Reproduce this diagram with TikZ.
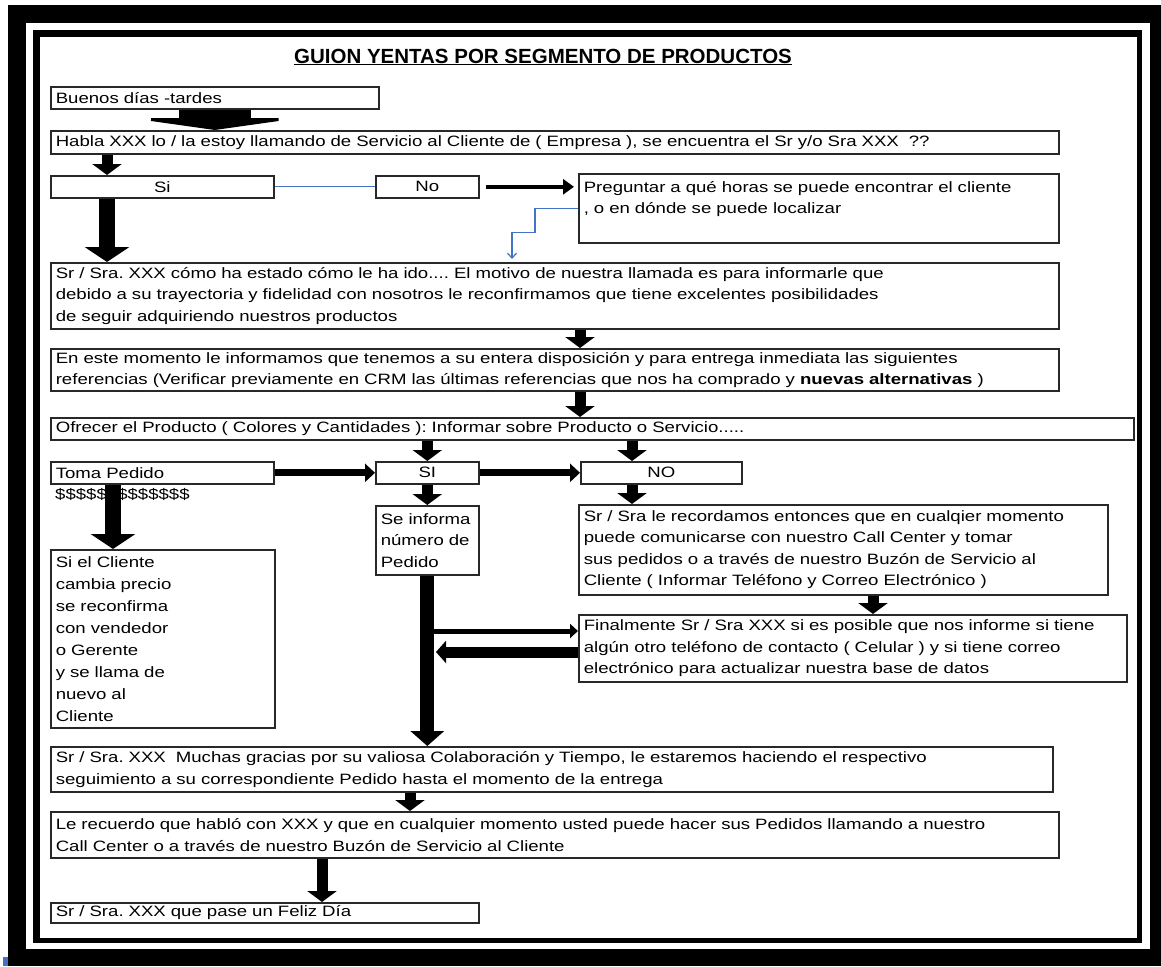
\documentclass[tikz,border=0pt]{standalone}
\usepackage{fontspec}
\setmainfont{Liberation Sans}
\newfontfamily\cajafont[FakeStretch=1.24]{Liberation Sans}
\frenchspacing
\usetikzlibrary{arrows.meta}
\definecolor{azul}{RGB}{68,114,196}
\definecolor{borde}{RGB}{40,40,40}
\tikzstyle{caja} = [rectangle, draw=borde, line width=1.6pt, anchor=north west, inner xsep=5pt, inner ysep=2pt, align=left, font=\cajafont\fontsize{15}{21.5}\selectfont]
\tikzstyle{flechita} = [line width=11pt, -{Triangle[length=11pt,width=29pt]}]
\tikzstyle{flechota} = [line width=16pt, -{Triangle[length=15pt,width=44pt]}]
\tikzstyle{flechalarga} = [line width=14pt, -{Triangle[length=15pt,width=33pt]}]
\tikzstyle{flechaH} = [line width=7pt, -{Triangle[length=10pt,width=18pt]}]
\tikzstyle{flechafina} = [line width=4pt, -{Triangle[length=11pt,width=15pt]}]
\tikzstyle{enlace} = [draw=azul, line width=1.2pt]

\begin{document}
\begin{tikzpicture}[x=1pt, y=-1pt]
	\useasboundingbox (0,0) rectangle (1161,966);
	% marco doble
	\fill[black] (8,5) rectangle (1161,966);
	\fill[white] (26,23) rectangle (1150,949);
	\fill[black] (33,30) rectangle (1142,943);
	\fill[white] (40,37) rectangle (1137,938);
	\fill[azul] (3,957) rectangle (8,966);

	\node (titulo) at (543,57) {\fontsize{20.5}{24}\selectfont\bfseries\underline{GUION YENTAS POR SEGMENTO DE PRODUCTOS}};

	% saludo
	\node (buenos) [caja, text width=318, minimum height=22] at (50,86) {Buenos días -tardes};
	\node (habla) [caja, text width=998, minimum height=23] at (50,130) {Habla XXX lo / la estoy llamando de Servicio al Cliente de ( Empresa ), se encuentra el Sr y/o Sra XXX \ ??};
	\node (si) [caja, text width=213, minimum height=22, align=center] at (50,175) {Si};
	\node (no) [caja, text width=93, minimum height=22, align=center] at (375,175) {No};
	\node (preg) [caja, text width=470, minimum height=69] at (578,173) {Preguntar a qué horas se puede encontrar el cliente\\, o en dónde se puede localizar\\ \mbox{}};
	\node (sr1) [caja, text width=998, minimum height=66] at (50,262) {Sr / Sra. XXX cómo ha estado cómo le ha ido.... El motivo de nuestra llamada es para informarle que\\debido a su trayectoria y fidelidad con nosotros le reconfirmamos que tiene excelentes posibilidades\\de seguir adquiriendo nuestros productos};
	\node (momento) [caja, text width=998, minimum height=42] at (50,348) {En este momento le informamos que tenemos a su entera disposición y para entrega inmediata las siguientes\\referencias (Verificar previamente en CRM las últimas referencias que nos ha comprado y \textbf{nuevas alternativas} )};
	\node (ofrecer) [caja, text width=1073, minimum height=22] at (50,417) {Ofrecer el Producto ( Colores y Cantidades ): Informar sobre Producto o Servicio.....};

	% pedido
	\node (toma) [caja, text width=213, minimum height=22] at (50,461) {Toma Pedido};
	\node (pesos) [anchor=west, inner sep=0pt, font=\cajafont\fontsize{15}{18}\selectfont] at (55,494) {\$\$\$\$\$\$\$\$\$\$\$\$\$};
	\node (siB) [caja, text width=93, minimum height=22, align=center] at (375,461) {SI};
	\node (noB) [caja, text width=151, minimum height=22, align=center] at (580,461) {NO};
	\node (informa) [caja, text width=93, minimum height=69] at (375,505) {Se informa\\número de\\Pedido};
	\node (cliente) [caja, text width=214, minimum height=178, font=\cajafont\fontsize{15}{22}\selectfont] at (50,549) {Si el Cliente\\cambia precio\\se reconfirma\\con vendedor\\o Gerente\\y se llama de\\nuevo al\\Cliente};
	\node (recordamos) [caja, text width=519, minimum height=90] at (578,504) {Sr / Sra le recordamos entonces que en cualqier momento\\puede comunicarse con nuestro Call Center y tomar\\sus pedidos o a través de nuestro Buzón de Servicio al\\Cliente ( Informar Teléfono y Correo Electrónico )};
	\node (finalmente) [caja, text width=538, minimum height=67] at (578,614) {Finalmente Sr / Sra XXX si es posible que nos informe si tiene\\algún otro teléfono de contacto ( Celular ) y si tiene correo\\electrónico para actualizar nuestra base de datos};

	% cierre
	\node (muchas) [caja, text width=992, minimum height=45] at (50,746) {Sr / Sra. XXX \ Muchas gracias por su valiosa Colaboración y Tiempo, le estaremos haciendo el respectivo\\seguimiento a su correspondiente Pedido hasta el momento de la entrega};
	\node (recuerdo) [caja, text width=998, minimum height=46] at (50,811) {Le recuerdo que habló con XXX y que en cualquier momento usted puede hacer sus Pedidos llamando a nuestro\\Call Center o a través de nuestro Buzón de Servicio al Cliente};
	\node (feliz) [caja, text width=418, minimum height=20] at (50,902) {Sr / Sra. XXX que pase un Feliz Día};

	% flechas
	\draw [line width=72pt, -{Triangle[length=12pt,width=170pt]}] (buenos.south) -- (buenos.south |- habla.north);
	\draw [flechita] ([xshift=57pt]si.north west |- habla.south) -- ([xshift=57pt]si.north west);
	\draw [enlace] (si.east) -- (no.west);
	\draw [flechafina] ([xshift=6pt]no.east) -- ([xshift=-4pt]no.east -| preg.west);
	\draw [enlace, -{Straight Barb[length=5pt,width=9pt]}] (preg.west) -- ++(-43,0) |- ++(-23,24) -- ([xshift=462pt,yshift=3pt]sr1.north west);
	\draw [flechota] ([xshift=57pt]si.south west) -- ([xshift=57pt]sr1.north west);
	\draw [flechita] ([xshift=530pt]sr1.south west) -- ([xshift=530pt]momento.north west);
	\draw [flechita] ([xshift=530pt]momento.south west) -- ([xshift=530pt]ofrecer.north west);
	\draw [flechita] (siB.north |- ofrecer.south) -- (siB.north);
	\draw [flechita] ([xshift=52pt]noB.north west |- ofrecer.south) -- ([xshift=52pt]noB.north west);
	\draw [flechaH] (toma.east) -- (siB.west);
	\draw [flechaH] (siB.east) -- (noB.west);
	\draw [flechota] ([xshift=63pt]toma.south west) -- ([xshift=63pt]cliente.north west);
	\draw [flechita] (siB.south) -- (informa.north);
	\draw [flechita] ([xshift=52pt]noB.south west) -- ([xshift=52pt]noB.south west |- recordamos.north);
	\draw [flechita] ([xshift=295pt]recordamos.south west) -- ([xshift=295pt]recordamos.south west |- finalmente.north);
	\coordinate (ejeA) at (428,631);
	\coordinate (ejeB) at (436,652);
	\draw [line width=5pt, -{Triangle[length=8pt,width=14pt]}] (ejeA) -- (ejeA -| finalmente.west);
	\draw [line width=11pt, -{Triangle[length=10pt,width=22pt]}] (ejeB -| finalmente.west) -- (ejeB);
	\draw [flechalarga] (informa.south) -- (informa.south |- muchas.north);
	\draw [flechita] ([xshift=360pt]muchas.south west) -- ([xshift=360pt]recuerdo.north west);
	\draw [flechita] ([xshift=272pt]recuerdo.south west) -- ([xshift=272pt]feliz.north west);
\end{tikzpicture}
\end{document}
